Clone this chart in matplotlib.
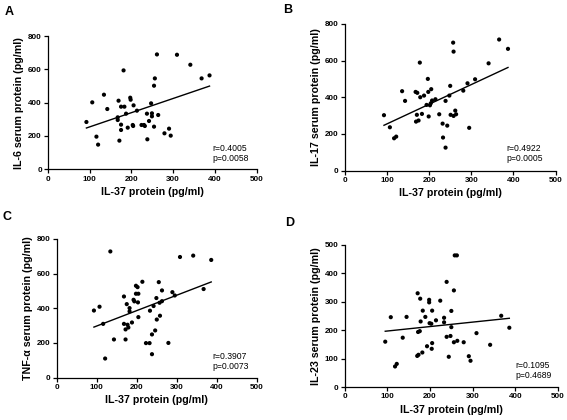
import numpy as np
import matplotlib
matplotlib.use("Agg")
import matplotlib.pyplot as plt

plt.rcParams['font.family'] = ['Liberation Sans', 'DejaVu Sans']

# Panel A: IL-6
il6_x = [92, 106, 134, 142, 116, 120, 169, 167, 167, 171, 175, 175, 175, 181, 183,
         187, 191, 197, 198, 203, 205, 204, 213, 224, 230, 232, 237, 238, 242, 247,
         249, 249, 254, 254, 256, 261, 264, 279, 290, 294, 309, 341, 368, 387]
il6_y = [284, 402, 448, 362, 196, 148, 412, 312, 296, 172, 376, 268, 236, 594, 376,
         334, 250, 430, 418, 266, 384, 260, 352, 266, 266, 260, 334, 180, 290, 396,
         336, 318, 256, 502, 546, 690, 326, 216, 244, 202, 688, 628, 546, 564]

# Panel B: IL-17
il17_x = [93, 107, 117, 122, 136, 143, 168, 172, 171, 169, 175, 178, 179, 183, 188,
          194, 197, 198, 199, 204, 205, 207, 202, 215, 224, 232, 233, 239, 239, 243,
          248, 250, 251, 257, 258, 258, 262, 264, 281, 291, 295, 309, 341, 366, 387]
il17_y = [302, 236, 176, 185, 433, 380, 429, 424, 304, 267, 273, 589, 400, 309, 409,
          358, 500, 429, 295, 367, 444, 382, 356, 389, 307, 256, 180, 125, 380, 245,
          409, 462, 304, 698, 649, 298, 327, 307, 436, 476, 233, 498, 585, 715, 664]

# Panel C: TNF-a
tnf_x = [93, 107, 116, 121, 134, 143, 168, 172, 168, 172, 175, 177, 179, 182, 182,
         188, 192, 194, 198, 202, 198, 204, 203, 204, 214, 223, 232, 233, 238, 238,
         242, 246, 249, 250, 255, 257, 258, 263, 263, 279, 289, 295, 308, 341, 367, 386]
tnf_y = [387, 409, 310, 110, 728, 220, 468, 220, 310, 278, 424, 305, 289, 401, 382,
         318, 449, 440, 530, 522, 484, 484, 434, 349, 553, 199, 199, 386, 135, 249,
         413, 272, 459, 335, 551, 432, 357, 441, 503, 200, 493, 474, 696, 704, 511, 679]

# Panel D: IL-23
il23_x = [95, 108, 118, 122, 136, 145, 171, 170, 173, 172, 176, 177, 178, 183, 182,
          189, 193, 198, 198, 199, 203, 205, 205, 204, 214, 224, 233, 233, 239, 239,
          244, 248, 250, 250, 256, 256, 258, 263, 264, 279, 291, 295, 309, 341, 367, 386]
il23_y = [160, 246, 73, 82, 174, 247, 330, 110, 114, 194, 197, 311, 231, 269, 122,
          247, 144, 307, 298, 225, 223, 269, 155, 135, 235, 304, 244, 228, 370, 177,
          107, 180, 268, 211, 340, 158, 463, 463, 163, 158, 109, 93, 190, 149, 251, 209]

panels = [
    # letter, x, y, ylabel, ymax, ystep, r/p text, axes rect, text x
    ("A", il6_x, il6_y, "IL-6 serum protein (pg/ml)", 800, 200,
     "r=0.4005\np=0.0058", [0.0847, 0.597, 0.368, 0.317], 0.79),
    ("B", il17_x, il17_y, "IL-17 serum protein (pg/ml)", 800, 200,
     "r=0.4922\np=0.0005", [0.608, 0.594, 0.372, 0.349], 0.765),
    ("C", tnf_x, tnf_y, "TNF-\u03b1 serum protein (pg/ml)", 800, 200,
     "r=0.3907\np=0.0073", [0.100, 0.101, 0.353, 0.330], 0.78),
    ("D", il23_x, il23_y, "IL-23 serum protein (pg/ml)", 500, 100,
     "r=0.1095\np=0.4689", [0.608, 0.078, 0.376, 0.339], 0.80),
]

letter_pos = {"A": (0.008, 0.972), "B": (0.500, 0.977), "C": (0.005, 0.483), "D": (0.503, 0.468)}

fig = plt.figure(figsize=(5.67, 4.20), dpi=100)

for letter, x, y, ylabel, ymax, ystep, rp, rect, tx in panels:
    ax = fig.add_axes(rect)
    x = np.array(x, dtype=float)
    y = np.array(y, dtype=float)
    ax.scatter(x, y, s=9, c='black', edgecolors='none', zorder=3)

    # линия регрессии
    k, b = np.polyfit(x, y, 1)
    xx = np.array([x.min(), x.max()])
    ax.plot(xx, k * xx + b, color='black', lw=1.0)

    ax.set_xlim(0, 500)
    ax.set_ylim(0, ymax)
    ax.set_xticks(np.arange(0, 501, 100))
    ax.set_yticks(np.arange(0, ymax + 1, ystep))
    for s in ['top', 'right']:
        ax.spines[s].set_visible(False)
    for s in ['left', 'bottom']:
        ax.spines[s].set_linewidth(0.9)
    ax.tick_params(direction='out', length=3, width=0.9, labelsize=5.8, pad=1.5)
    for lab in ax.get_xticklabels() + ax.get_yticklabels():
        lab.set_fontweight('bold')

    ax.set_xlabel("IL-37 protein (pg/ml)", fontsize=7.7, fontweight='bold', labelpad=3)
    ax.set_ylabel(ylabel, fontsize=7.7, fontweight='bold', labelpad=3)

    ax.text(tx, 0.115, rp, transform=ax.transAxes, fontsize=6.2,
            ha='left', va='center', linespacing=1.15)

    lx, ly = letter_pos[letter]
    fig.text(lx, ly, letter, fontsize=9, fontweight='bold', ha='left', va='center')

fig.savefig("out.png", dpi=100, facecolor='white')
